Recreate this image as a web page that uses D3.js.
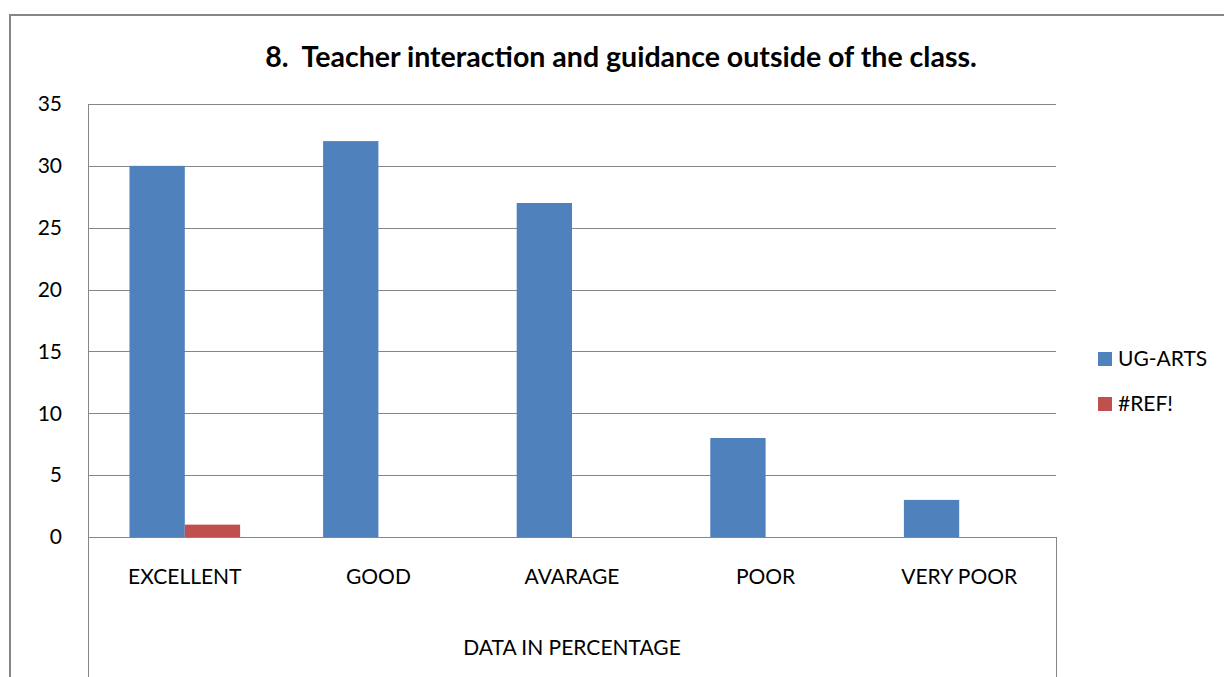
<!DOCTYPE html>
<html>
<head>
<meta charset="utf-8">
<script src="https://cdn.jsdelivr.net/npm/d3@7"></script>
<style>
  body { margin: 0; background: #fff; }
  svg text { font-family: Lato, "Open Sans", sans-serif; fill: #000; white-space: pre; }
</style>
</head>
<body>
<div id="chart"></div>
<script>
// chart data
var categories = ['EXCELLENT', 'GOOD', 'AVARAGE', 'POOR', 'VERY POOR'];
var seriesNames = ['UG-ARTS', '#REF!'];
var ugArts = [30, 32, 27, 8, 3];
var refErr = [1, 0, 0, 0, 0];
var yTicks = [0, 5, 10, 15, 20, 25, 30, 35];
var colors = ['#4F81BD', '#C0504D'];
var titleText = '8.  Teacher interaction and guidance outside of the class.';
var axisTitle = 'DATA IN PERCENTAGE';

var W = 1224, H = 677;
var plot = { left: 88, right: 1056, top: 104, bottom: 537 };
var fs = 21;

var svg = d3.select('#chart').append('svg')
    .attr('width', W)
    .attr('height', H);

// outer chart border (runs off the right and bottom edges)
svg.append('rect')
    .attr('x', 10).attr('y', 15)
    .attr('width', 1240).attr('height', 700)
    .attr('fill', 'none')
    .attr('stroke', '#868686')
    .attr('stroke-width', 2);

var x = d3.scaleBand()
    .domain(categories)
    .range([plot.left, plot.right])
    .padding(0);

var y = d3.scaleLinear()
    .domain([0, 35])
    .range([plot.bottom, plot.top]);

// gap width 150% -> group takes bw*2/3.5
var groupW = x.bandwidth() * 2 / 3.5;
var xs = d3.scaleBand()
    .domain(seriesNames)
    .range([(x.bandwidth() - groupW) / 2, (x.bandwidth() + groupW) / 2]);

// gridlines
svg.append('g')
    .selectAll('line')
    .data(yTicks.filter(function(d) { return d > 0; }))
    .join('line')
    .attr('x1', plot.left).attr('x2', plot.right)
    .attr('y1', function(d) { return Math.round(y(d)) + 0.5; })
    .attr('y2', function(d) { return Math.round(y(d)) + 0.5; })
    .attr('stroke', '#868686')
    .attr('stroke-width', 1);

// bars
var rows = categories.map(function(c, i) {
    return [
        { cat: c, s: seriesNames[0], v: ugArts[i], color: colors[0] },
        { cat: c, s: seriesNames[1], v: refErr[i], color: colors[1] }
    ];
});

svg.append('g')
    .selectAll('g')
    .data(rows)
    .join('g')
    .attr('transform', function(d) { return 'translate(' + x(d[0].cat) + ',0)'; })
    .selectAll('rect')
    .data(function(d) { return d.filter(function(e) { return e.v > 0; }); })
    .join('rect')
    .attr('x', function(d) { return xs(d.s); })
    .attr('width', xs.bandwidth())
    .attr('y', function(d) { return y(d.v); })
    .attr('height', function(d) { return y(0) - y(d.v); })
    .attr('fill', function(d) { return d.color; });

// axes lines
var axes = svg.append('g')
    .attr('stroke', '#868686')
    .attr('stroke-width', 1)
    .attr('fill', 'none');
axes.append('line')
    .attr('x1', plot.left).attr('x2', plot.right)
    .attr('y1', plot.bottom + 0.5).attr('y2', plot.bottom + 0.5);
axes.append('line')
    .attr('x1', plot.left + 0.5).attr('x2', plot.left + 0.5)
    .attr('y1', plot.top).attr('y2', H);
axes.append('line')
    .attr('x1', plot.right + 0.5).attr('x2', plot.right + 0.5)
    .attr('y1', plot.bottom).attr('y2', H);

// y tick labels
svg.append('g')
    .selectAll('text')
    .data(yTicks)
    .join('text')
    .attr('x', 62)
    .attr('y', function(d) { return y(d); })
    .attr('dy', '0.35em')
    .attr('text-anchor', 'end')
    .attr('font-size', fs)
    .text(function(d) { return d; });

// category labels
svg.append('g')
    .selectAll('text')
    .data(categories)
    .join('text')
    .attr('x', function(d) { return x(d) + x.bandwidth() / 2; })
    .attr('y', 577)
    .attr('dy', '0.35em')
    .attr('text-anchor', 'middle')
    .attr('font-size', fs)
    .text(function(d) { return d; });

svg.append('text')
    .attr('x', (plot.left + plot.right) / 2)
    .attr('y', 648)
    .attr('dy', '0.35em')
    .attr('text-anchor', 'middle')
    .attr('font-size', fs)
    .text(axisTitle);

// title, sized to span roughly 265..977 like the original
var title = svg.append('text')
    .attr('x', 621)
    .attr('y', 57)
    .attr('dy', '0.35em')
    .attr('text-anchor', 'middle')
    .attr('font-size', 24)
    .attr('font-weight', 'bold')
    .text(titleText);
var tw = title.node().getComputedTextLength();
if (tw > 0) title.attr('font-size', Math.min(30, 24 * 712 / tw));

// legend
var legend = svg.append('g')
    .selectAll('g')
    .data(seriesNames)
    .join('g')
    .attr('transform', function(d, i) { return 'translate(1098,' + (359 + i * 45) + ')'; });
legend.append('rect')
    .attr('x', 0).attr('y', -7)
    .attr('width', 14).attr('height', 14)
    .attr('fill', function(d, i) { return colors[i]; });
legend.append('text')
    .attr('x', 20)
    .attr('y', 0)
    .attr('dy', '0.35em')
    .attr('font-size', fs)
    .text(function(d) { return d; });
</script>
</body>
</html>
